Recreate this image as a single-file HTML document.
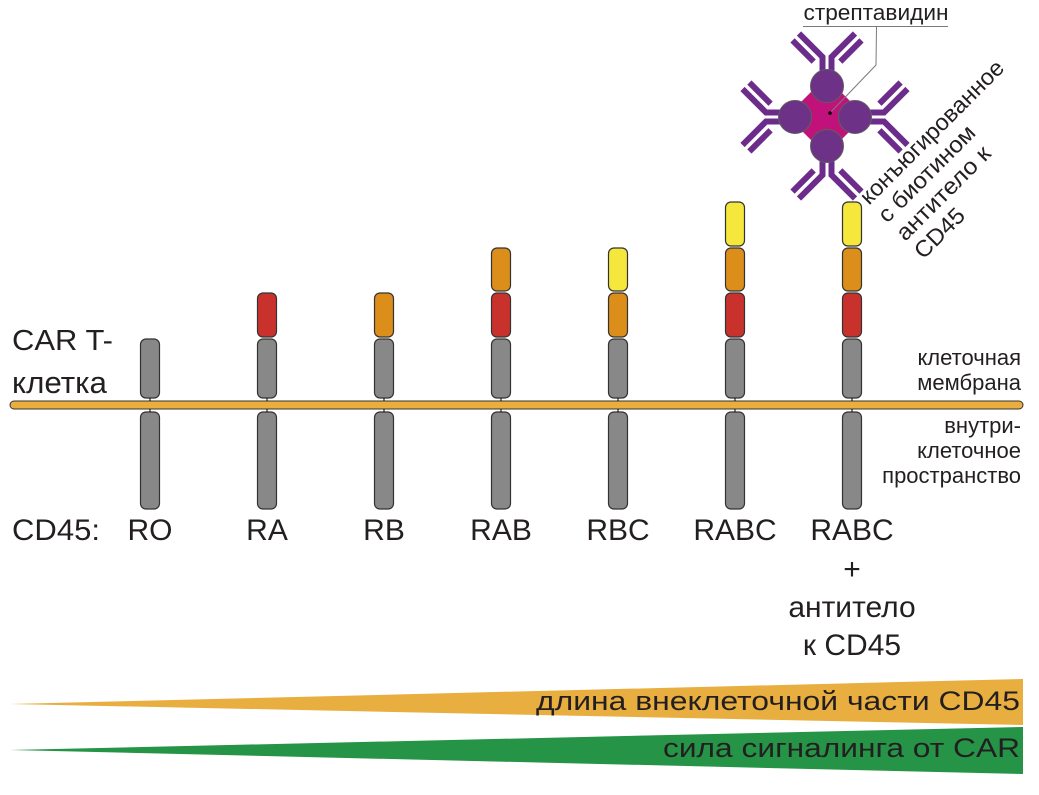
<!DOCTYPE html>
<html>
<head>
<meta charset="utf-8">
<style>
  html,body{margin:0;padding:0;background:#fff;}
  svg{display:block;}
  text{font-family:"Liberation Sans","Noto Sans CJK SC",sans-serif;fill:#231f20;}
</style>
</head>
<body>
<svg width="1039" height="795" viewBox="0 0 1039 795" xmlns="http://www.w3.org/2000/svg">
  <defs>
    <g id="abchain">
      <polyline points="-4.5,-12 -4.5,-29 -28,-52.5" fill="none" stroke="#6b2c8c" stroke-width="6" stroke-linejoin="miter"/>
      <polyline points="4.5,-12 4.5,-29 28,-52.5" fill="none" stroke="#6b2c8c" stroke-width="6" stroke-linejoin="miter"/>
      <line x1="-13.3" y1="-24.4" x2="-34.5" y2="-45.6" stroke="#6b2c8c" stroke-width="6"/>
      <line x1="13.3" y1="-24.4" x2="34.5" y2="-45.6" stroke="#6b2c8c" stroke-width="6"/>
    </g>
  </defs>

  <!-- streptavidin label + leader -->
  <text x="876" y="20" font-size="22" text-anchor="middle" textLength="145" lengthAdjust="spacingAndGlyphs">стрептавидин</text>
  <line x1="803" y1="26.5" x2="948" y2="26.5" stroke="#7a7a7a" stroke-width="1"/>

  <!-- antibody chains -->
  <use href="#abchain" transform="translate(827,86)"/>
  <use href="#abchain" transform="translate(855,117) rotate(90)"/>
  <use href="#abchain" transform="translate(827,146) rotate(180)"/>
  <use href="#abchain" transform="translate(795,117) rotate(-90)"/>

  <!-- streptavidin core -->
  <polygon points="826,77 865,116 826,155 787,116" fill="#c0127a"/>
  <circle cx="827" cy="86" r="16.5" fill="#6d3287" stroke="#5e5e5e" stroke-width="1"/>
  <circle cx="855" cy="117" r="16.5" fill="#6d3287" stroke="#5e5e5e" stroke-width="1"/>
  <circle cx="795" cy="117" r="16.5" fill="#6d3287" stroke="#5e5e5e" stroke-width="1"/>
  <circle cx="827" cy="146" r="16.5" fill="#6d3287" stroke="#5e5e5e" stroke-width="1"/>

  <polyline points="876.5,26.5 876,65 830,113" fill="none" stroke="#7a7a7a" stroke-width="1"/>
  <circle cx="830" cy="113" r="1.8" fill="#000"/>

  <!-- rotated antibody label -->
  <g transform="rotate(-45)" font-size="23">
    <text x="469" y="760" textLength="193" lengthAdjust="spacingAndGlyphs">конъюгированное</text>
    <text x="469" y="785.6" textLength="127" lengthAdjust="spacingAndGlyphs">с биотином</text>
    <text x="469" y="811.2" textLength="123" lengthAdjust="spacingAndGlyphs">антитело к</text>
    <text x="469" y="836.8" textLength="61" lengthAdjust="spacingAndGlyphs">CD45</text>
  </g>

  <!-- membrane -->
  <rect x="10" y="401" width="1013" height="8" rx="4" fill="#e9ae3d" stroke="#333" stroke-width="1"/>

  <!-- columns -->
  <g stroke="#333" stroke-width="1.2">
    <rect x="140.5" y="339" width="19" height="59" rx="5.5" fill="#888"/>
    <rect x="140.5" y="412" width="19" height="97" rx="5.5" fill="#888"/>

    <rect x="257.5" y="293" width="19" height="44" rx="5.5" fill="#c9322c"/>
    <rect x="257.5" y="339" width="19" height="59" rx="5.5" fill="#888"/>
    <rect x="257.5" y="412" width="19" height="97" rx="5.5" fill="#888"/>

    <rect x="374.5" y="293" width="19" height="44" rx="5.5" fill="#dc8e1b"/>
    <rect x="374.5" y="339" width="19" height="59" rx="5.5" fill="#888"/>
    <rect x="374.5" y="412" width="19" height="97" rx="5.5" fill="#888"/>

    <rect x="491.5" y="248" width="19" height="43" rx="5.5" fill="#dc8e1b"/>
    <rect x="491.5" y="293" width="19" height="44" rx="5.5" fill="#c9322c"/>
    <rect x="491.5" y="339" width="19" height="59" rx="5.5" fill="#888"/>
    <rect x="491.5" y="412" width="19" height="97" rx="5.5" fill="#888"/>

    <rect x="608.5" y="248" width="19" height="43" rx="5.5" fill="#f5e73c"/>
    <rect x="608.5" y="293" width="19" height="44" rx="5.5" fill="#dc8e1b"/>
    <rect x="608.5" y="339" width="19" height="59" rx="5.5" fill="#888"/>
    <rect x="608.5" y="412" width="19" height="97" rx="5.5" fill="#888"/>

    <rect x="725.5" y="202" width="19" height="44" rx="5.5" fill="#f5e73c"/>
    <rect x="725.5" y="248" width="19" height="43" rx="5.5" fill="#dc8e1b"/>
    <rect x="725.5" y="293" width="19" height="44" rx="5.5" fill="#c9322c"/>
    <rect x="725.5" y="339" width="19" height="59" rx="5.5" fill="#888"/>
    <rect x="725.5" y="412" width="19" height="97" rx="5.5" fill="#888"/>

    <rect x="842.5" y="202" width="19" height="44" rx="5.5" fill="#f5e73c"/>
    <rect x="842.5" y="248" width="19" height="43" rx="5.5" fill="#dc8e1b"/>
    <rect x="842.5" y="293" width="19" height="44" rx="5.5" fill="#c9322c"/>
    <rect x="842.5" y="339" width="19" height="59" rx="5.5" fill="#888"/>
    <rect x="842.5" y="412" width="19" height="97" rx="5.5" fill="#888"/>
  </g>
  <g stroke="#000" stroke-width="1">
    <line x1="150" y1="398" x2="150" y2="401"/><line x1="150" y1="409" x2="150" y2="412"/>
    <line x1="267" y1="398" x2="267" y2="401"/><line x1="267" y1="409" x2="267" y2="412"/>
    <line x1="384" y1="398" x2="384" y2="401"/><line x1="384" y1="409" x2="384" y2="412"/>
    <line x1="501" y1="398" x2="501" y2="401"/><line x1="501" y1="409" x2="501" y2="412"/>
    <line x1="618" y1="398" x2="618" y2="401"/><line x1="618" y1="409" x2="618" y2="412"/>
    <line x1="735" y1="398" x2="735" y2="401"/><line x1="735" y1="409" x2="735" y2="412"/>
    <line x1="852" y1="398" x2="852" y2="401"/><line x1="852" y1="409" x2="852" y2="412"/>
  </g>

  <!-- left labels -->
  <text x="12" y="350" font-size="29" textLength="101" lengthAdjust="spacingAndGlyphs">CAR T-</text>
  <text x="12" y="393" font-size="31" textLength="95" lengthAdjust="spacingAndGlyphs">клетка</text>

  <!-- right labels -->
  <g font-size="22" text-anchor="end">
    <text x="1021" y="365">клеточная</text>
    <text x="1021" y="390">мембрана</text>
    <text x="1021" y="433">внутри-</text>
    <text x="1021" y="458">клеточное</text>
    <text x="1021" y="483">пространство</text>
  </g>

  <!-- bottom labels -->
  <g font-size="30">
    <text x="12" y="540" textLength="88" lengthAdjust="spacingAndGlyphs">CD45:</text>
    <text x="150" y="540" text-anchor="middle">RO</text>
    <text x="267" y="540" text-anchor="middle">RA</text>
    <text x="384" y="540" text-anchor="middle">RB</text>
    <text x="501" y="540" text-anchor="middle">RAB</text>
    <text x="618" y="540" text-anchor="middle">RBC</text>
    <text x="735" y="540" text-anchor="middle">RABC</text>
    <text x="852" y="540" text-anchor="middle">RABC</text>
    <text x="852" y="579" text-anchor="middle">+</text>
    <text x="852" y="617" text-anchor="middle">антитело</text>
    <text x="852" y="655" text-anchor="middle">к CD45</text>
  </g>

  <!-- wedges -->
  <polygon points="10,704 1023,679 1023,725" fill="#e8af40"/>
  <polygon points="10,750 1023,727 1023,774" fill="#259446"/>
  <text x="1020" y="710" font-size="27" text-anchor="end" textLength="484" lengthAdjust="spacingAndGlyphs">длина внеклеточной части CD45</text>
  <text x="1020" y="757" font-size="27" text-anchor="end" textLength="357" lengthAdjust="spacingAndGlyphs">сила сигналинга от CAR</text>
</svg>
</body>
</html>
